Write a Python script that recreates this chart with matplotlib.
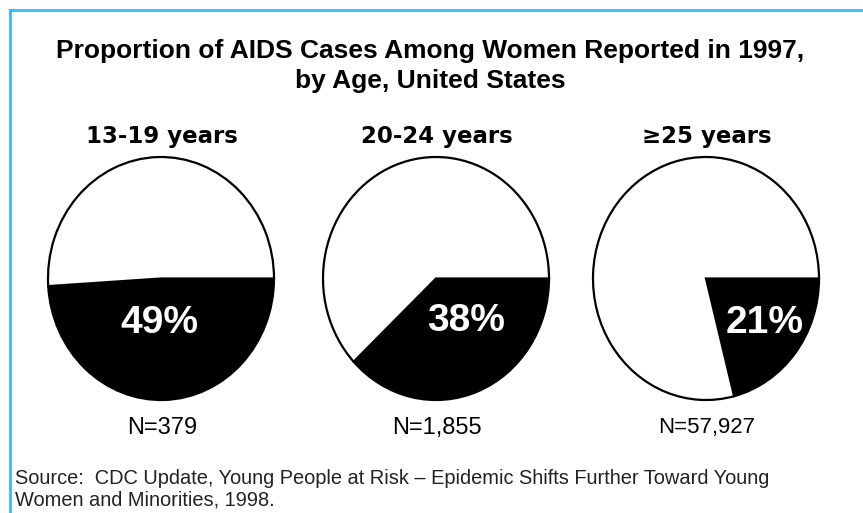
import matplotlib
matplotlib.use("Agg")
import matplotlib.pyplot as plt
from matplotlib import font_manager as fm
from matplotlib.lines import Line2D

# ---- data ----
age_groups = ["13-19 years", "20-24 years", "\u226525 years"]
pct_women = [49, 38, 21]
n_labels = ["N=379", "N=1,855", "N=57,927"]
title = "Proportion of AIDS Cases Among Women Reported in 1997,\nby Age, United States"
source = ("Source:  CDC Update, Young People at Risk \u2013 Epidemic Shifts Further Toward Young\n"
          "Women and Minorities, 1998.")

W, H = 863, 513
fig = plt.figure(figsize=(W / 100, H / 100), dpi=100)
fig.patch.set_facecolor("white")

names = {f.name for f in fm.fontManager.ttflist}
sans = "Liberation Sans" if "Liberation Sans" in names else "DejaVu Sans"

def fx(px):
    return px / W

def fy(py):
    return 1 - py / H

# frame (top and left lines)
frame_col = "#33BDF2"
fig.add_artist(Line2D([fx(10), fx(863)], [fy(10), fy(10)], color=frame_col, lw=2, transform=fig.transFigure))
fig.add_artist(Line2D([fx(10), fx(10)], [fy(10), fy(513)], color=frame_col, lw=2, transform=fig.transFigure))

fig.text(fx(430), fy(66), title, ha="center", va="center", fontsize=19, fontweight="bold",
         family=sans, linespacing=1.35)

# pie boxes (pixel bbox left)
lefts = [48, 323, 593]
pie_w, pie_top, pie_h = 226, 157, 243
pct_pos = [(-0.01, -0.37), (0.27, -0.35), (0.52, -0.37)]
n_sizes = [17, 17, 16]

for i, (grp, val, nlab) in enumerate(zip(age_groups, pct_women, n_labels)):
    l = lefts[i]
    ax = fig.add_axes([fx(l), fy(pie_top + pie_h), pie_w / W, pie_h / H])
    wedges, texts, autotexts = ax.pie(
        [val, 100 - val], colors=["black", "white"], startangle=0, counterclock=False,
        radius=1, autopct="%d%%",
        wedgeprops=dict(edgecolor="black", linewidth=1.6),
        textprops=dict(color="white", fontsize=28, fontweight="bold", family=sans))
    autotexts[0].set_position(pct_pos[i])
    autotexts[1].set_visible(False)
    for w in wedges:
        w.set_clip_on(False)
    ax.set_aspect("auto")
    ax.set_xlim(-1, 1)
    ax.set_ylim(-1, 1)
    ax.axis("off")
    cx = l + pie_w / 2
    fig.text(fx(cx + 1), fy(137), grp, ha="center", va="center", fontsize=16.5,
             fontweight="bold", family="DejaVu Sans")
    fig.text(fx(cx + 1), fy(428), nlab, ha="center", va="center", fontsize=n_sizes[i], family=sans)

fig.text(fx(15), fy(489), source, ha="left", va="center", fontsize=14.4, family=sans,
         color="#222222", linespacing=1.2)

fig.savefig("out.png", dpi=100, facecolor="white")
